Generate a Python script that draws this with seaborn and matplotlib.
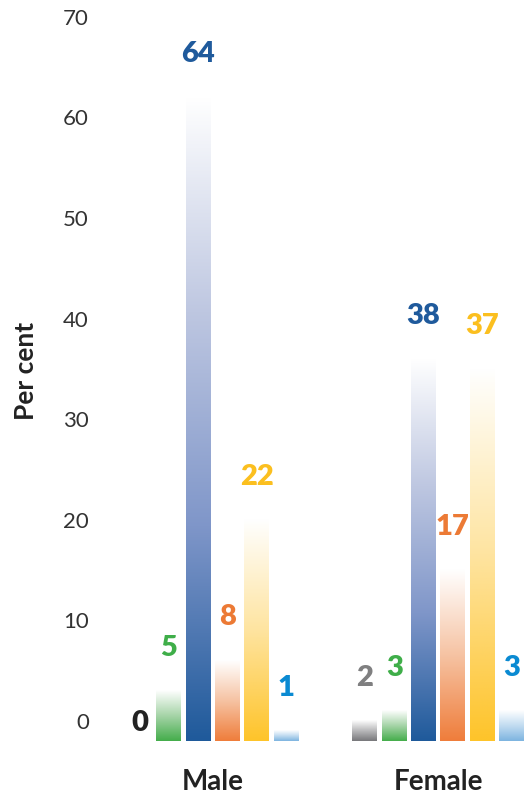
import numpy as np
import pandas as pd
import matplotlib
matplotlib.use("Agg")
import matplotlib.pyplot as plt
import matplotlib.transforms as mtransforms
from matplotlib.colors import LinearSegmentedColormap
import seaborn as sns

# Data
groups = ["Male", "Female"]
categories = ["Cat 1", "Cat 2", "Cat 3", "Cat 4", "Cat 5", "Cat 6"]
male_values = [0, 5, 64, 8, 22, 1]
female_values = [2, 3, 38, 17, 37, 3]
ytick_values = [0, 10, 20, 30, 40, 50, 60, 70]

# Colours: bar gradient stops (top -> bottom) and label colours
bar_stops = [
    ["#ffffff", "#b9b9bb", "#77777a"],
    ["#ffffff", "#a6d4a8", "#44ad4b"],
    ["#ffffff", "#bec7e1", "#7f96c9", "#1f5a9b"],
    ["#ffffff", "#f6c3a3", "#ef7d3b"],
    ["#ffffff", "#fee4a0", "#fec42a"],
    ["#ffffff", "#c2dcf1", "#7db4e0"],
]
label_colors = ["#222222", "#3fae49", "#1f5a9c", "#ec7a35", "#fbbf1f", "#0a8ad2"]
label_colors_female = ["#7f7f80", "#3fae49", "#1f5a9c", "#ec7a35", "#fbbf1f", "#0a8ad2"]

df = pd.DataFrame({
    "group": np.repeat(groups, len(categories)),
    "category": categories * len(groups),
    "value": male_values + female_values,
})

sns.set_style("white")
plt.rcParams["font.family"] = ["Lato", "DejaVu Sans"]

fig = plt.figure(figsize=(5.25, 7.96), dpi=100)
ax = fig.add_axes([100 / 525, 55 / 796, 425 / 525, 741 / 796])

sns.barplot(data=df, x="group", y="value", hue="category", order=groups,
            hue_order=categories, width=0.78, gap=0.15, legend=False, ax=ax)

# Replace flat fills with vertical gradients (white at top)
grad = np.linspace(0, 1, 256).reshape(-1, 1)
for ci, container in enumerate(ax.containers):
    cmap = LinearSegmentedColormap.from_list(f"g{ci}", bar_stops[ci])
    for gi, bar in enumerate(container):
        x0 = bar.get_x()
        w = bar.get_width()
        h = bar.get_height()
        bar.set_facecolor("none")
        bar.set_edgecolor("none")
        if h > 0:
            ax.imshow(grad, cmap=cmap, vmin=0, vmax=1, extent=[x0, x0 + w, 0, h],
                      origin="upper", aspect="auto", zorder=2, interpolation="bilinear")
        colors = label_colors if gi == 0 else label_colors_female
        off = 31 if h > 0 else 13
        ax.annotate(f"{h:.0f}", (x0 + w / 2, h), xytext=(0, off), textcoords="offset points",
                    ha="center", va="center", fontsize=21, fontweight="heavy",
                    color=colors[ci])

ax.set_xlim(-0.5, 1.385)
ax.set_ylim(0, 73.66)
sns.despine(ax=ax, left=True, bottom=True)

ax.set_yticks(ytick_values)
ax.set_yticklabels([str(v) for v in ytick_values])
ax.tick_params(axis="y", length=0, pad=8, labelsize=16, labelcolor="#333333")
ax.tick_params(axis="x", length=0, pad=20, labelsize=20, labelcolor="#222222")
for lab in ax.get_xticklabels():
    lab.set_fontweight("bold")

# tick labels sit a little above their gridline in the original
offset = mtransforms.ScaledTranslation(0, 0.20, fig.dpi_scale_trans)
for lab in ax.get_yticklabels():
    lab.set_transform(lab.get_transform() + offset)

ax.set_xlabel("")
ax.set_ylabel("Per cent", fontsize=19, fontweight="bold", color="#222222")
ax.yaxis.set_label_coords(-62 / 425, 0.5)

fig.savefig("out.png", dpi=100)
